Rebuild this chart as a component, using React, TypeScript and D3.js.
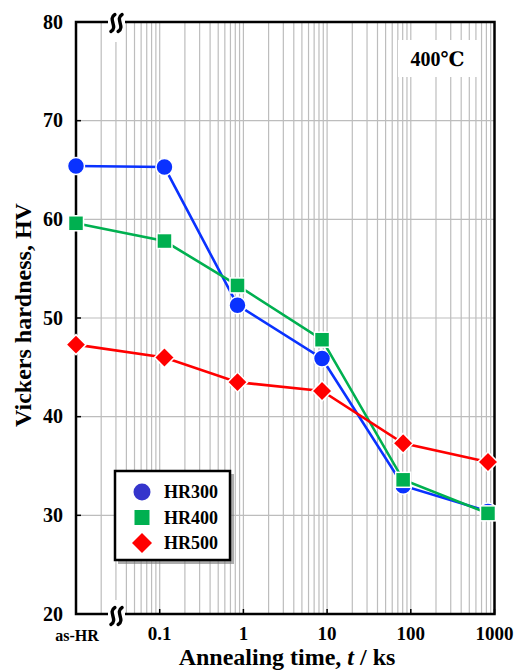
import React from "react";
import * as d3 from "d3";

// ---- data ----
const AS_HR = 0.01; // position used for the as-HR (as hot rolled) state
const times = [AS_HR, 0.114, 0.85, 8.7, 81, 836];
const hr300 = [65.4, 65.3, 51.3, 45.9, 33.0, 30.4];
const hr400 = [59.6, 57.8, 53.3, 47.8, 33.6, 30.2];
const hr500 = [47.3, 46.0, 43.5, 42.6, 37.3, 35.4];
const seriesNames = ["HR300", "HR400", "HR500"];
const xTickValues = [0.1, 1, 10, 100, 1000];
const xTickLabels = ["0.1", "1", "10", "100", "1000"];
const yTickValues = [20, 30, 40, 50, 60, 70, 80];

const W = 516;
const H = 672;
const L = 76, R = 494.5, T = 22, B = 614;
const FONT = "Liberation Serif, DejaVu Serif, serif";

export default function App() {
  const x = d3.scaleLog().domain([0.01, 1000]).range([L, R]);
  const y = d3.scaleLinear().domain([20, 80]).range([B, T]);

  const gridX: number[] = [];
  for (let e = -2; e < 3; e++) {
    for (let m = 1; m <= 9; m++) {
      const v = m * Math.pow(10, e);
      if (v > 0.01 && v < 1000) gridX.push(v);
    }
  }
  const breakX = 116.5;

  const colors = ["#0a32ff", "#00b050", "#ff0000"];
  const legendColors = ["#3535cc", "#00b050", "#ff0000"];
  const data = [hr300, hr400, hr500];

  const line = d3
    .line<number>()
    .x((_, i) => x(times[i]))
    .y((d) => y(d));

  const marker = (k: number, cx: number, cy: number, fill: string, stroke: string | null, key: string) => {
    const sw = stroke ? 1.5 : 0;
    if (k === 0)
      return <circle key={key} cx={cx} cy={cy} r={8.5} fill={fill} stroke={stroke || "none"} strokeWidth={sw} />;
    if (k === 1)
      return <rect key={key} x={cx - 7.5} y={cy - 7.5} width={15} height={15} fill={fill} stroke={stroke || "none"} strokeWidth={sw} />;
    const s = 10;
    return (
      <path
        key={key}
        d={`M${cx},${cy - s}L${cx + s},${cy}L${cx},${cy + s}L${cx - s},${cy}Z`}
        fill={fill}
        stroke={stroke || "none"}
        strokeWidth={sw}
      />
    );
  };

  const wave = (cx: number, cy: number) =>
    `M${cx + 2},${cy - 8.5} C${cx - 5.5},${cy - 4} ${cx + 5.5},${cy + 4} ${cx - 2},${cy + 8.5}`;

  const txt = { fontFamily: FONT, fontWeight: "bold" as const };

  return (
    <svg width={W} height={H} style={{ position: "absolute", left: 0, top: 0, background: "#fff" }}>
      <rect x={0} y={0} width={W} height={H} fill="#fff" />
      {/* grid */}
      {gridX.map((v, i) => (
        <line key={"gx" + i} x1={x(v)} x2={x(v)} y1={T} y2={B} stroke="#bdbdbd" strokeWidth={1.2} />
      ))}
      {yTickValues.slice(1, -1).map((v) => (
        <line key={"gy" + v} x1={L} x2={R} y1={y(v)} y2={y(v)} stroke="#bdbdbd" strokeWidth={1.2} />
      ))}
      {/* inward ticks */}
      {yTickValues.map((v) => (
        <line key={"ty" + v} x1={L} x2={L + 5} y1={y(v)} y2={y(v)} stroke="#000" strokeWidth={1.5} />
      ))}
      {xTickValues.map((v) => (
        <line key={"tx" + v} x1={x(v)} x2={x(v)} y1={B} y2={B - 5} stroke="#000" strokeWidth={1.5} />
      ))}
      {/* frame */}
      <rect x={L} y={T} width={R - L} height={B - T} fill="none" stroke="#000" strokeWidth={2.5} />
      {/* axis break masks */}
      <rect x={108} y={4} width={17} height={38} fill="#fff" />
      <rect x={108} y={600} width={17} height={30} fill="#fff" />
      {[T + 1, B + 2].map((cy, i) => (
        <g key={"br" + i} fill="none" stroke="#000" strokeWidth={3.4} strokeLinecap="round">
          <path d={wave(breakX - 3.6, cy)} />
          <path d={wave(breakX + 3.6, cy)} />
        </g>
      ))}

      {/* temperature label */}
      <rect x={398} y={40} width={79} height={37} fill="#fff" />
      <text x={437.5} y={66} textAnchor="middle" style={{ ...txt, fontSize: 20 }}>
        400℃
      </text>

      {/* series */}
      {data.map((s, k) => (
        <g key={"s" + k}>
          <path d={line(s) || ""} fill="none" stroke={colors[k]} strokeWidth={2.6} />
          {s.map((v, i) => marker(k, x(times[i]), y(v), colors[k], "#fff", `m${k}-${i}`))}
        </g>
      ))}

      {/* legend */}
      <rect x={118} y={474} width={116} height={90} fill="#777" opacity={0.6} />
      <rect x={115} y={471} width={115} height={89} fill="#fff" stroke="#000" strokeWidth={2.5} />
      {seriesNames.map((n, k) => {
        const cy = 492 + k * 25.5;
        return (
          <g key={"lg" + k}>
            {marker(k, 142, cy, legendColors[k], null, "lm" + k)}
            <text x={164} y={cy + 6} style={{ ...txt, fontSize: 18 }}>
              {n}
            </text>
          </g>
        );
      })}

      {/* y tick labels */}
      {yTickValues.map((v) => (
        <text key={"yl" + v} x={63} y={y(v) + 6.5} textAnchor="end" style={{ ...txt, fontSize: 20 }}>
          {v}
        </text>
      ))}
      {/* x tick labels */}
      <text x={77} y={641} textAnchor="middle" style={{ ...txt, fontSize: 16 }}>
        as-HR
      </text>
      {xTickValues.map((v, i) => (
        <text key={"xl" + v} x={x(v)} y={640} textAnchor="middle" style={{ ...txt, fontSize: 19 }}>
          {xTickLabels[i]}
        </text>
      ))}
      {/* axis titles */}
      <text x={287} y={665} textAnchor="middle" style={{ ...txt, fontSize: 24 }}>
        Annealing time, <tspan fontStyle="italic">t</tspan> / ks
      </text>
      <text
        transform={`translate(31,${315}) rotate(-90)`}
        textAnchor="middle"
        style={{ ...txt, fontSize: 24 }}
      >
        Vickers hardness, HV
      </text>
    </svg>
  );
}
